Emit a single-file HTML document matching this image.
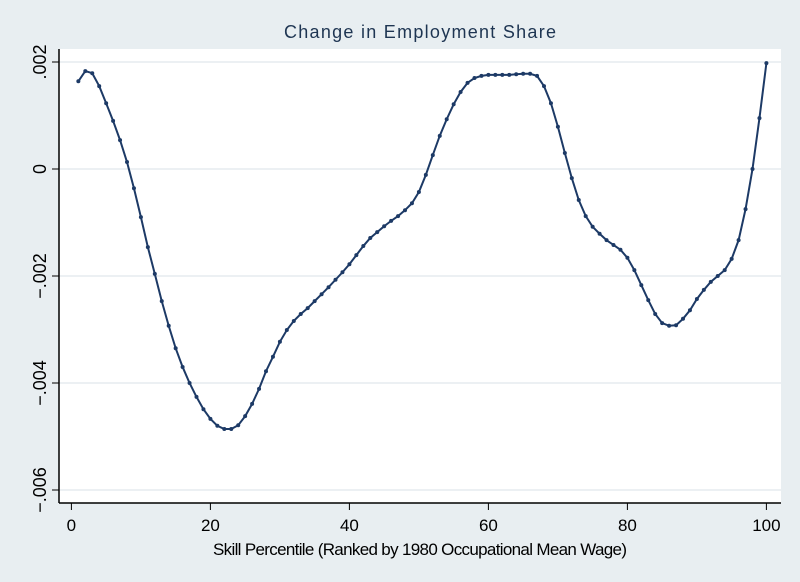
<!DOCTYPE html>
<html><head><meta charset="utf-8"><style>
html,body{margin:0;padding:0;background:#e8eef1;}
svg{display:block;font-family:"Liberation Sans",sans-serif;}
</style></head><body>
<svg id="chart" width="800" height="582">
<rect x="0" y="0" width="800" height="582" fill="#e8eef1"/>
<rect x="59" y="49" width="722" height="454" fill="#ffffff"/>
<text x="420" y="38" text-anchor="middle" font-size="18" fill="#1e3552" textLength="272">Change in Employment Share</text>
<g id="grid"></g><g id="axes"></g><g id="series"></g>
<text x="420" y="555" text-anchor="middle" font-size="17" fill="#000" textLength="414">Skill Percentile (Ranked by 1980 Occupational Mean Wage)</text>
</svg>
<script>
const percentiles=[];for(let i=1;i<=100;i++)percentiles.push(i);
const shareChange=[1.64,1.83,1.79,1.55,1.23,0.90,0.54,0.13,-0.36,-0.90,-1.46,-1.96,-2.47,-2.93,-3.35,-3.70,-4.00,-4.26,-4.49,-4.67,-4.80,-4.86,-4.86,-4.79,-4.62,-4.39,-4.11,-3.78,-3.51,-3.23,-3.01,-2.84,-2.71,-2.60,-2.47,-2.34,-2.21,-2.07,-1.93,-1.78,-1.61,-1.44,-1.29,-1.18,-1.07,-0.97,-0.88,-0.77,-0.64,-0.43,-0.11,0.26,0.62,0.93,1.21,1.44,1.61,1.70,1.74,1.76,1.76,1.76,1.76,1.77,1.78,1.78,1.74,1.55,1.23,0.79,0.30,-0.17,-0.58,-0.88,-1.08,-1.21,-1.33,-1.42,-1.51,-1.66,-1.89,-2.17,-2.45,-2.71,-2.88,-2.93,-2.92,-2.80,-2.64,-2.43,-2.26,-2.11,-2.00,-1.89,-1.68,-1.33,-0.75,0.00,0.95,1.98].map(v=>v/1000);
const xTicks=[0,20,40,60,80,100];
const yTicks=[0.002,0,-0.002,-0.004,-0.006];
const yTickLabels=[".002","0","-.002","-.004","-.006"];
const NS="http://www.w3.org/2000/svg";
const xs=v=>71.4+v*6.95;
const ys=v=>169-v/0.002*107;
function mk(tag,attrs,parent){const e=document.createElementNS(NS,tag);for(const k in attrs)e.setAttribute(k,attrs[k]);document.getElementById(parent).appendChild(e);return e;}
yTicks.forEach((t,i)=>{
  const g=mk('line',{x1:59,x2:781,y1:ys(t),y2:ys(t),stroke:'#e6ecef','stroke-width':1.5},'grid');
  
  
  const tk=mk('line',{x1:52,x2:59,y1:ys(t),y2:ys(t),stroke:'#000','stroke-width':1},'axes');
  
  
  const tx=mk('text',{x:0,y:0,transform:`translate(46,${ys(t)}) rotate(-90)`,'text-anchor':'middle','font-size':18,fill:'#000'},'axes');
  tx.textContent=yTickLabels[i].replace('-','\u2212');
  
  
});
xTicks.forEach(t=>{
  const tk=mk('line',{x1:xs(t),x2:xs(t),y1:503,y2:510,stroke:'#000','stroke-width':1},'axes');
  
  
  const tx=mk('text',{x:xs(t),y:531,'text-anchor':'middle','font-size':17,fill:'#000'},'axes');
  tx.textContent=t;
  
  
});
const ax=mk('line',{x1:59,x2:59,y1:49,y2:503,stroke:'#000','stroke-width':1.5},'axes');


const bx=mk('line',{x1:59,x2:781,y1:503,y2:503,stroke:'#000','stroke-width':1.5},'axes');


const pts=percentiles.map((p,i)=>xs(p).toFixed(2)+','+ys(shareChange[i]).toFixed(2)).join(' ');
const pl=mk('polyline',{points:pts,fill:'none',stroke:'#1d3a66','stroke-width':2},'series');


percentiles.forEach((p,i)=>{
  const c=mk('circle',{cx:xs(p),cy:ys(shareChange[i]),r:2,fill:'#1d3a66'},'series');
  
  
});
</script>
</body></html>
